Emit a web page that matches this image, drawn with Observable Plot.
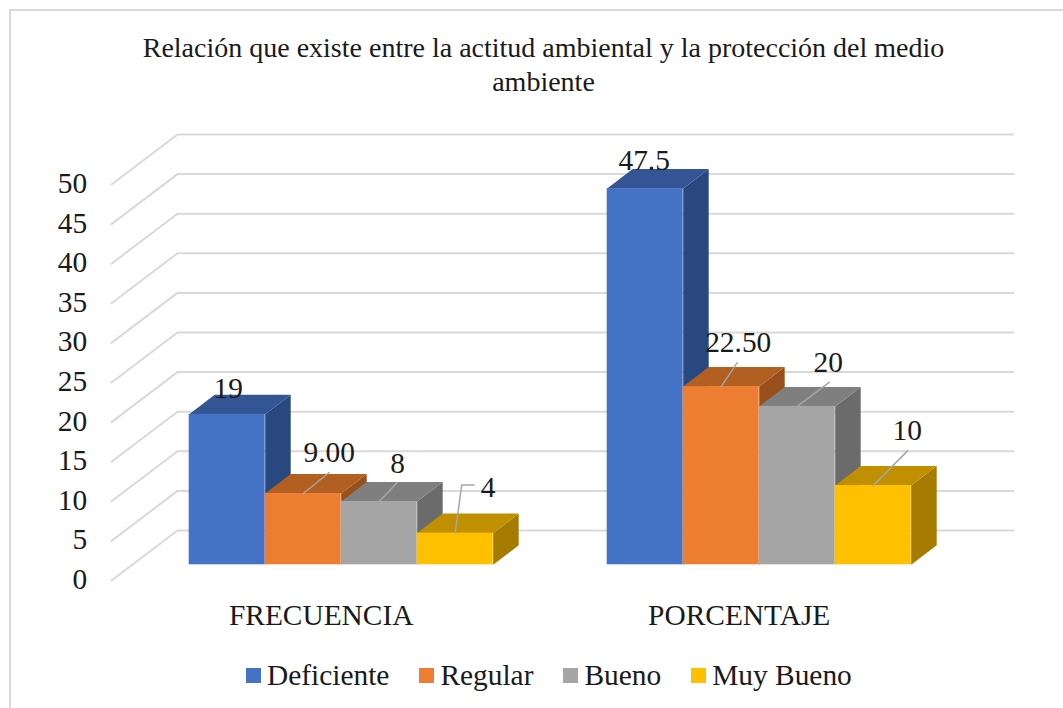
<!DOCTYPE html>
<html lang="es">
<head>
<meta charset="utf-8">
<script src="https://cdn.jsdelivr.net/npm/d3@7"></script>
<script src="https://cdn.jsdelivr.net/npm/@observablehq/plot@0.6"></script>
<style>
  html, body { margin: 0; padding: 0; background: #fff; }
  body { position: relative; width: 1063px; height: 708px; overflow: hidden; font-family: "Liberation Serif", serif; color: #1a1a1a; }
  #frame { position: absolute; left: 9px; top: 9px; right: -5px; bottom: -5px; border-left: 2px solid #d9d9d9; border-top: 2px solid #d9d9d9; }
  #title { position: absolute; left: 0; width: 1087px; top: 31px; text-align: center; font-size: 28px; line-height: 34px; }
  #chart { position: absolute; left: 0; top: 110px; }
  #legend { position: absolute; left: 246px; top: 658px; display: flex; gap: 30px; font-size: 29.4px; line-height: 34px; }
  .item { display: flex; align-items: center; gap: 6px; white-space: nowrap; }
  .sw { width: 15px; height: 15px; display: inline-block; }
</style>
</head>
<body>
<div id="frame"></div>
<div id="title"></div>
<div id="chart"></div>
<div id="legend"></div>
<script>
// ---- data ----
const titleLines = ["Relación que existe entre la actitud ambiental y la protección del medio", "ambiente"];
const groups = ["FRECUENCIA", "PORCENTAJE"];
const series = ["Deficiente", "Regular", "Bueno", "Muy Bueno"];
const frecuencia = [19, 9, 8, 4];
const porcentaje = [47.5, 22.5, 20, 10];
const frecuenciaLabels = ["19", "9.00", "8", "4"];
const porcentajeLabels = ["47.5", "22.50", "20", "10"];
const yTicks = [0, 5, 10, 15, 20, 25, 30, 35, 40, 45, 50];

// ---- style ----
const frontColors = ["#4472c4", "#ed7d31", "#a5a5a5", "#ffc000"];
const topColors = ["#335593", "#b25f22", "#7f7f7f", "#c09000"];
const sideColors = ["#2a4880", "#984f1c", "#6b6b6b", "#a67c00"];
const textColor = "#1a1a1a";
const fontPx = 29.4;

// ---- layout (pixels per data unit and oblique projection) ----
const pxX = 76, pxY = 7.92;
const groupStart = [0, 5.5];
const depthX = 25.5 / pxX, depthY = 19.5 / pxY;
const floorFront = {x: -77.7 / pxX, dy: -15.7 / pxY};
const wall = {x: -11.7 / pxX, xEnd: 824.3 / pxX, dy: 34.3 / pxY};

// label placement: [label dx, label dy, leader points as px offsets from the bar's top centre]
const placements = [
  [[1, -26, null], [26, -41, [[0, 0], [26, -21]]], [18.5, -38, [[0, 0], [18, -19]]], [33, -46, [[0, 0], [6.5, -48], [19, -48]]]],
  [[-1, -28, null], [17, -44.5, [[0, 0], [16, -24]]], [31, -44, [[0, 0], [32, -24]]], [34, -55, [[0, 0], [34.5, -35]]]]
];

// ---- derived tables ----
const bars = [];
groups.forEach((g, gi) => {
  const vals = gi === 0 ? frecuencia : porcentaje;
  const labs = gi === 0 ? frecuenciaLabels : porcentajeLabels;
  series.forEach((s, i) => {
    bars.push({g: gi, i, x1: groupStart[gi] + i, x2: groupStart[gi] + i + 1, v: vals[i], label: labs[i]});
  });
});

const faces = bars.flatMap((b) => {
  const idS = `${b.g}-${b.i}-side`, idT = `${b.g}-${b.i}-top`;
  return [
    {f: idS, c: sideColors[b.i], x: b.x2, y: 0},
    {f: idS, c: sideColors[b.i], x: b.x2 + depthX, y: depthY},
    {f: idS, c: sideColors[b.i], x: b.x2 + depthX, y: b.v + depthY},
    {f: idS, c: sideColors[b.i], x: b.x2, y: b.v},
    {f: idT, c: topColors[b.i], x: b.x1, y: b.v},
    {f: idT, c: topColors[b.i], x: b.x1 + depthX, y: b.v + depthY},
    {f: idT, c: topColors[b.i], x: b.x2 + depthX, y: b.v + depthY},
    {f: idT, c: topColors[b.i], x: b.x2, y: b.v}
  ];
});

const grid = yTicks.flatMap((t) => [
  {t, x: floorFront.x, y: t + floorFront.dy},
  {t, x: wall.x, y: t + wall.dy},
  {t, x: wall.xEnd, y: t + wall.dy}
]);

const leaders = bars.flatMap((b) => {
  const pts = placements[b.g][b.i][2];
  if (!pts) return [];
  return pts.map(([dx, dy]) => ({id: `${b.g}-${b.i}`, x: (b.x1 + b.x2) / 2 + dx / pxX, y: b.v - dy / pxY}));
});

const labelMarks = bars.map((b) => {
  const [dx, dy] = placements[b.g][b.i];
  return Plot.text([b], {
    x: (d) => (d.x1 + d.x2) / 2, y: "v", text: "label",
    dx, dy, fontSize: fontPx, fill: textColor, lineAnchor: "middle", textAnchor: "middle"
  });
});

const plot = Plot.plot({
  width: 1063,
  height: 530,
  marginLeft: 188.7,
  marginRight: 152.3,
  marginTop: 58.3,
  marginBottom: 75.7,
  x: {domain: [0, 9.5]},
  y: {domain: [0, 50]},
  style: {background: "transparent", fontFamily: "Liberation Serif", fontSize: "29px", color: textColor},
  marks: [
    Plot.line(grid, {x: "x", y: "y", z: "t", stroke: "#d9d9d9", strokeWidth: 2}),
    Plot.line(faces, {x: "x", y: "y", z: "f", fill: "c", stroke: "none"}),
    Plot.rect(bars, {x1: "x1", x2: "x2", y1: 0, y2: "v", fill: (d) => frontColors[d.i]}),
    Plot.line(leaders, {x: "x", y: "y", z: "id", stroke: "#a6a6a6", strokeWidth: 1.5}),
    Plot.axisY({ticks: yTicks, tickSize: 0, tickPadding: 0, label: null, dx: -102, dy: 14.7, fontSize: fontPx, fill: textColor, anchor: "left"}),
    Plot.axisX({
      ticks: groupStart.map((s) => s + 2), tickSize: 0, tickPadding: 0, label: null,
      tickFormat: (d) => groups[groupStart.indexOf(d - 2)],
      dx: -20, dy: 39, fontSize: fontPx, fill: textColor, anchor: "bottom"
    }),
    ...labelMarks
  ]
});
document.getElementById("chart").append(plot);

document.getElementById("title").innerHTML = titleLines.join("<br>");
const legend = document.getElementById("legend");
series.forEach((s, i) => {
  const item = document.createElement("div");
  item.className = "item";
  const sw = document.createElement("span");
  sw.className = "sw";
  sw.style.background = frontColors[i];
  const tx = document.createElement("span");
  tx.textContent = s;
  item.append(sw, tx);
  legend.append(item);
});
</script>
</body>
</html>
